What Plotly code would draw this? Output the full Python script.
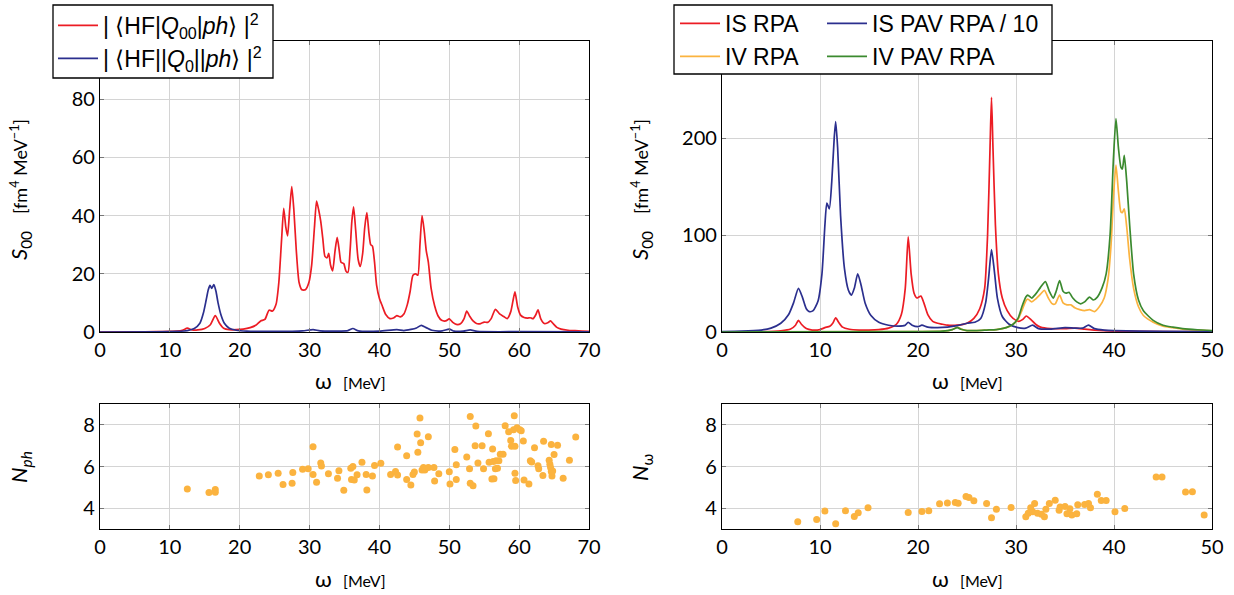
import plotly.graph_objects as go

# ---------------- data ----------------
# Top-left panel: strength functions vs omega [MeV]
tl_red_w = [0, 5, 8, 10, 11, 11.8, 12.5, 13.2, 14, 15, 15.8, 16.5, 17.1, 17.7, 18.5, 19.5, 20.5, 21.5, 22.3, 23,
            23.6, 24.2, 24.7, 25.2, 25.6, 26.0, 26.3, 26.6, 26.85, 27.15, 27.45, 27.75, 28.1, 28.5, 28.9, 29.4,
            29.9, 30.3, 30.7, 31.0, 31.3, 31.6, 31.9, 32.2, 32.5, 32.75, 33.0, 33.3, 33.65, 33.95, 34.25, 34.5,
            34.9, 35.2, 35.5, 35.8, 36.05, 36.3, 36.6, 36.95, 37.25, 37.6, 37.9, 38.2, 38.5, 38.75, 39.0, 39.3,
            39.6, 40.0, 40.4, 40.9, 41.5, 42.0, 42.5, 43.0, 43.5, 44.0, 44.4, 44.8, 45.2, 45.5, 45.8, 46.1, 46.4,
            46.7, 47.0, 47.4, 47.9, 48.4, 48.9, 49.5, 50.0, 50.5, 51.0, 51.6, 52.1, 52.5, 52.9, 53.4, 53.9, 54.5,
            55.0, 55.5, 56.0, 56.6, 57.2, 57.8, 58.3, 58.8, 59.1, 59.4, 59.8, 60.2, 60.7, 61.2, 61.6, 62.0, 62.4,
            62.7, 63.1, 63.6, 64.1, 64.5, 64.9, 65.4, 66.0, 67.0, 68.0, 69.0, 70.0]
tl_red_s = [0, 0.05, 0.1, 0.2, 0.3, 0.6, 1.3, 0.7, 0.7, 1.2, 2.5, 5.6, 3, 1.3, 0.8, 0.8, 1.0, 1.5, 2.3, 3.8,
            4.3, 7.5, 7.2, 9.5, 17, 32, 42.5, 36, 33, 42, 50, 42, 28, 17, 14.5, 14.5,
            17, 23, 36, 45, 42, 38, 32, 26, 25.5, 27, 23, 21, 28, 32.5, 28, 24,
            23.5, 21, 20.5, 28, 38, 43, 35, 25, 22.5, 27, 36, 41, 34, 30, 29.5, 24,
            16, 11.5, 9, 6, 4.6, 4.8, 5.6, 5.2, 6.2, 9.5, 14, 19.5, 20, 19.5, 30, 40, 35,
            28, 24, 15, 9, 5.5, 4, 3.8, 4.5, 3.3, 2.6, 2.8, 4.5, 7.2, 5.5, 3.8, 2.9, 2.9,
            3.4, 3.3, 4.6, 7.8, 6.2, 5.3, 4.6, 7, 10.5, 13.8, 8.5, 5.8, 5.0, 4.8, 4.9, 4.6, 6,
            7.6, 4.5, 2.9, 3.2, 3.8, 2.8, 1.6, 1.0, 0.6, 0.45, 0.3, 0.2]

tl_blue_w = [0, 8, 11, 12.5, 13.5, 14.3, 14.8, 15.2, 15.5, 15.75, 16.0, 16.3, 16.6, 16.9, 17.3, 17.8, 18.5, 19.5,
             21, 25, 29, 30.5, 31.5, 34, 35.5, 36.2, 37, 40, 42.5, 43.5, 44.5, 45.3, 46.0, 46.7, 47.5, 49, 50,
             50.7, 52, 53, 54, 60, 70]
tl_blue_s = [0, 0.05, 0.2, 0.5, 1.2, 3, 6.5, 11, 14.5, 16, 15, 16.3, 14, 10, 6, 3, 1.3, 0.6,
             0.3, 0.2, 0.4, 0.8, 0.4, 0.3, 0.5, 1.2, 0.4, 0.3, 0.8, 0.5, 0.9, 1.4, 2.3, 1.5, 0.6, 0.4, 1.0,
             0.3, 0.3, 0.7, 0.2, 0.1, 0.05]

# Top-right panel
is_rpa_w = [0, 4, 6, 7.0, 7.5, 7.8, 8.1, 8.6, 9.2, 10.0, 10.5, 11.0, 11.3, 11.6, 11.9, 12.3, 13, 14, 15, 16, 17,
            17.8, 18.3, 18.7, 19.0, 19.3, 19.6, 19.9, 20.3, 20.6, 21.0, 21.5, 22.0, 22.5, 23.0, 24.0, 25.0, 25.7,
            26.3, 26.8, 27.1, 27.35, 27.5, 27.65, 27.9, 28.2, 28.6, 29.1, 29.7, 30.3, 30.7, 31.05, 31.5, 32,
            32.5, 33.5, 35, 36, 37, 38, 40, 45, 50]
is_rpa_s = [0, 0.3, 1.2, 3, 7, 12, 8, 3.5, 2, 2.5, 4.5, 6, 9, 14.5, 10, 5, 2.8, 2, 2, 2.5, 4,
            8, 18, 45, 98, 60, 40, 35, 37, 30, 18, 11, 9, 8, 7, 7, 9, 14,
            24, 45, 100, 190, 242, 190, 110, 60, 35, 22, 14, 11, 13, 16.5, 13, 8,
            5, 3.5, 3.5, 4, 3, 2, 1, 0.3, 0.1]

is_pav_w = [0, 2, 4, 5, 6, 6.8, 7.3, 7.8, 8.2, 8.6, 8.9, 9.3, 9.8, 10.2, 10.5, 10.7, 10.95, 11.2, 11.45, 11.6,
            11.8, 12.1, 12.5, 12.9, 13.2, 13.5, 13.85, 14.2, 14.6, 15.2, 16, 17, 18, 18.7, 19.0, 19.4, 20.0,
            20.4, 21, 22, 23, 24, 25, 25.8, 26.4, 26.9, 27.2, 27.5, 27.8, 28.1, 28.6, 29.3, 30.2, 31, 31.7,
            32.3, 33.5, 35, 36, 36.8, 37.4, 38, 39, 40, 45, 50]
is_pav_s = [0.5, 0.8, 2, 4, 9, 18, 30, 45, 36, 24, 21, 22, 32, 60, 110, 133, 127, 155, 200, 217,
            190, 120, 65, 43, 38, 45, 60, 48, 30, 17, 10, 7, 6, 7, 10, 7, 5.5,
            7, 5, 4.5, 5, 6.5, 9, 10, 14, 30, 55, 85, 62, 35, 16, 8, 4.5, 4, 7,
            3.5, 3, 4.5, 4, 4, 7, 3.5, 2, 1.5, 0.6, 0.3]

iv_rpa_w = [0, 20, 22.5, 23.5, 24.0, 24.4, 25, 26, 27, 28, 29, 29.7, 30.2, 30.6, 31.0, 31.2, 31.6, 32.0, 32.5,
            32.9, 33.3, 33.7, 34.0, 34.45, 34.8, 35.2, 35.6, 36.0, 36.5, 37.0, 37.5, 38.0, 38.5, 39.0, 39.4,
            39.7, 39.95, 40.2, 40.45, 40.7, 40.85, 41.05, 41.3, 41.6, 42.0, 42.5, 43.0, 44.0, 45.0, 46, 47,
            48.5, 50]
iv_rpa_s = [0, 0.3, 0.8, 2.5, 5, 3, 1.5, 1.5, 2, 2.5, 4.5, 8, 13, 22, 32, 34, 31, 34, 39,
            43, 35, 29, 29, 38, 30, 28, 28, 25, 23, 22, 23, 21, 26, 35, 55,
            90, 140, 172, 145, 124, 123, 127, 108, 75, 45, 26, 17, 10, 6, 4.5, 3,
            2, 1.3]

iv_pav_w = [0, 20, 22.5, 23.5, 24.0, 24.4, 25, 26, 27, 28, 29, 29.7, 30.2, 30.6, 31.0, 31.2, 31.6, 32.0, 32.5,
            33.0, 33.4, 33.8, 34.1, 34.45, 34.8, 35.1, 35.4, 35.8, 36.2, 36.6, 37.0, 37.5, 37.9, 38.3, 38.8,
            39.2, 39.6, 39.95, 40.2, 40.45, 40.7, 40.85, 41.05, 41.3, 41.6, 42.0, 42.5, 43.0, 44.0, 45.0, 46,
            47, 48.5, 50]
iv_pav_s = [0, 0.3, 0.8, 2.5, 4.5, 2.8, 1.5, 1.5, 2, 2.5, 4.5, 8, 14, 26, 36, 38, 35, 39, 46,
            52, 42, 35, 42, 53, 42, 40, 41, 35, 31, 29, 31, 36, 33, 36, 46,
            60, 100, 180, 220, 190, 170, 168, 182, 155, 110, 60, 33, 22, 12, 7, 5,
            3.5, 2.3, 1.5]

# Bottom-left panel: N_ph vs omega
nph_w = [12.5, 15.6, 16.5, 16.5, 22.8, 24.1, 25.5, 26.2, 27.5, 27.6, 29.0, 29.8, 30.5, 30.5, 31.0, 31.6, 31.7,
         32.7, 34.0, 34.2, 34.9, 35.9, 36.0, 36.2, 36.4, 36.8, 37.5, 38.1, 38.2, 39.0, 39.3, 40.2, 41.6, 42.3,
         42.6, 42.6, 43.9, 43.9, 44.5, 44.8, 45.0, 45.4, 45.5, 45.8, 45.9, 46.1, 46.3, 46.5, 47.0, 47.0, 47.8,
         47.9, 48.5, 50.0, 50.1, 50.8, 51.0, 51.0, 52.5, 52.9, 53.0, 53.0, 53.4, 53.7, 53.8, 54.1, 54.7, 54.9,
         55.6, 55.7, 56.1, 56.2, 56.3, 56.4, 56.6, 56.7, 56.9, 57.1, 57.3, 57.7, 58.0, 58.5, 58.8, 58.9, 59.3,
         59.4, 59.4, 59.5, 59.2, 59.7, 60.1, 60.3, 60.6, 60.7, 61.4, 61.6, 61.8, 62.2, 62.7, 62.8, 63.4, 63.5,
         64.3, 64.4, 64.5, 64.6, 64.6, 64.7, 65.0, 65.5, 64.8, 66.3, 67.2, 68.1]
nph_n = [4.92, 4.75, 4.9, 4.76, 5.54, 5.6, 5.68, 5.14, 5.19, 5.71, 5.87, 5.89, 6.95, 5.62, 5.24, 6.17, 6.02,
         5.65, 5.43, 5.79, 4.86, 5.92, 5.38, 6.0, 5.35, 5.6, 6.2, 5.62, 4.87, 5.54, 6.05, 6.16, 5.62, 5.76,
         6.94, 5.59, 6.52, 5.37, 5.11, 5.62, 5.73, 7.56, 6.68, 8.33, 7.14, 5.83, 5.95, 5.83, 5.95, 7.43, 5.95,
         5.3, 5.65, 5.75, 5.16, 6.81, 5.38, 6.08, 6.46, 5.89, 8.4, 5.2, 5.08, 7.0, 7.94, 6.17, 7.0, 5.89,
         7.57, 6.2, 5.4, 6.84, 6.24, 5.41, 5.89, 6.27, 5.92, 6.27, 6.59, 6.59, 7.95, 7.67, 7.25, 6.97, 8.44,
         6.97, 5.67, 5.33, 7.76, 7.86, 7.76, 7.71, 7.22, 5.35, 5.16, 6.27, 6.22, 6.9, 6.03, 5.89, 5.57, 7.21,
         6.3, 6.11, 5.95, 7.06, 5.76, 5.54, 6.57, 7.02, 5.78, 5.43, 6.3, 7.41]

# Bottom-right panel: N_omega vs omega
nw_w = [7.73, 9.66, 10.5, 11.6, 12.6, 13.5, 13.9, 14.9, 19.0, 20.4, 21.1, 22.2, 23.0, 23.8, 24.1, 24.9, 25.2,
        25.7, 27.0, 27.5, 28.0, 29.5, 31.0, 31.25, 31.5, 31.7, 31.9, 32.2, 32.6, 32.9, 33.05, 33.4, 34.0, 34.4,
        34.5, 35.0, 35.2, 35.5, 35.7, 36.2, 36.3, 37.0, 37.4, 37.6, 38.3, 38.7, 39.2, 40.1, 41.1, 44.3, 44.9,
        47.3, 48.0, 49.2]
nw_n = [3.35, 3.46, 3.86, 3.25, 3.87, 3.6, 3.78, 4.02, 3.79, 3.84, 3.87, 4.21, 4.25, 4.27, 4.24, 4.56, 4.51,
        4.35, 4.22, 3.54, 3.95, 4.03, 3.59, 3.76, 4.02, 3.83, 4.22, 3.76, 3.71, 3.59, 3.95, 4.22, 4.38, 3.9,
        4.06, 4.08, 3.73, 3.97, 3.67, 3.73, 4.16, 4.17, 4.22, 4.02, 4.67, 4.37, 4.37, 3.83, 3.98, 5.49, 5.49,
        4.78, 4.79, 3.67]

TL_XTICKS = [0, 10, 20, 30, 40, 50, 60, 70]
TL_YTICKS = [0, 20, 40, 60, 80]
TR_XTICKS = [0, 10, 20, 30, 40, 50]
TR_YTICKS = [0, 100, 200]
B_YTICKS = [4, 6, 8]

# ---------------- styling ----------------
W, H = 1234, 595
FONT = "Lato"
LFONT = "Liberation Sans"
RED = "#ec1c24"
BLUE = "#2b2f8e"
ORANGE = "#fbb33f"
GREEN = "#3b8a2f"
LW = 1.7


def px(x):
    return x / W


def py(y):
    return 1 - y / H


fig = go.Figure()

fig.add_trace(go.Scatter(x=tl_red_w, y=tl_red_s, mode="lines", line=dict(color=RED, width=LW, shape="spline", smoothing=0.6),
                         name="| ⟨HF|<i>Q</i><sub>00</sub>|<i>ph</i>⟩ |<sup>2</sup>", xaxis="x", yaxis="y", legend="legend"))
fig.add_trace(go.Scatter(x=tl_blue_w, y=tl_blue_s, mode="lines", line=dict(color=BLUE, width=LW, shape="spline", smoothing=0.6),
                         name="| ⟨HF||<i>Q</i><sub>0</sub>||<i>ph</i>⟩ |<sup>2</sup>", xaxis="x", yaxis="y", legend="legend"))

fig.add_trace(go.Scatter(x=is_rpa_w, y=is_rpa_s, mode="lines", line=dict(color=RED, width=LW, shape="spline", smoothing=0.6),
                         name="IS RPA", xaxis="x2", yaxis="y2", legend="legend2"))
fig.add_trace(go.Scatter(x=iv_rpa_w, y=iv_rpa_s, mode="lines", line=dict(color=ORANGE, width=LW, shape="spline", smoothing=0.6),
                         name="IV RPA", xaxis="x2", yaxis="y2", legend="legend2"))
fig.add_trace(go.Scatter(x=is_pav_w, y=is_pav_s, mode="lines", line=dict(color=BLUE, width=LW, shape="spline", smoothing=0.6),
                         name="IS PAV RPA / 10", xaxis="x2", yaxis="y2", legend="legend3"))
fig.add_trace(go.Scatter(x=iv_pav_w, y=iv_pav_s, mode="lines", line=dict(color=GREEN, width=LW, shape="spline", smoothing=0.6),
                         name="IV PAV RPA", xaxis="x2", yaxis="y2", legend="legend3"))

fig.add_trace(go.Scatter(x=nph_w, y=nph_n, mode="markers", marker=dict(color=ORANGE, size=7),
                         showlegend=False, xaxis="x3", yaxis="y3"))
fig.add_trace(go.Scatter(x=nw_w, y=nw_n, mode="markers", marker=dict(color=ORANGE, size=7),
                         showlegend=False, xaxis="x4", yaxis="y4"))

axis_common = dict(showline=True, linecolor="black", linewidth=1.3, mirror="ticks",
                   ticks="inside", ticklen=4, tickcolor="#777", tickwidth=1,
                   showgrid=True, gridcolor="#d4d4d4", gridwidth=1, zeroline=False,
                   automargin=False,
                   tickfont=dict(family=FONT, size=20, color="black"))

top_dom = [py(332), py(41)]
bot_dom = [py(529), py(404)]
left_dom = [px(100), px(589)]
right_dom = [px(722), px(1212)]

legend_common = dict(xanchor="left", yanchor="top", bgcolor="rgba(0,0,0,0)", borderwidth=0,
                     font=dict(family=LFONT, size=23, color="black"), tracegroupgap=0, itemwidth=40)

fig.update_layout(
    width=W, height=H, autosize=False,
    margin=dict(l=0, r=0, t=0, b=0, pad=0, autoexpand=False),
    paper_bgcolor="white", plot_bgcolor="white",
    font=dict(family=FONT, size=19, color="black"),
    xaxis=dict(domain=left_dom, anchor="y", range=[0, 70], tickvals=TL_XTICKS, **axis_common),
    yaxis=dict(domain=top_dom, anchor="x", range=[0, 100], tickvals=TL_YTICKS, **axis_common),
    xaxis2=dict(domain=right_dom, anchor="y2", range=[0, 50], tickvals=TR_XTICKS, **axis_common),
    yaxis2=dict(domain=top_dom, anchor="x2", range=[0, 300], tickvals=TR_YTICKS, **axis_common),
    xaxis3=dict(domain=left_dom, anchor="y3", range=[0, 70], tickvals=TL_XTICKS, **axis_common),
    yaxis3=dict(domain=bot_dom, anchor="x3", range=[3, 9], tickvals=B_YTICKS, **axis_common),
    xaxis4=dict(domain=right_dom, anchor="y4", range=[0, 50], tickvals=TR_XTICKS, **axis_common),
    yaxis4=dict(domain=bot_dom, anchor="x4", range=[3, 9], tickvals=B_YTICKS, **axis_common),
    legend=dict(x=px(53), y=py(4), **legend_common),
    legend2=dict(x=px(675), y=py(2), **legend_common),
    legend3=dict(x=px(822), y=py(2), **legend_common),
    showlegend=True,
)

# legend boxes
for (x0, y0, x1, y1) in [(53, 5, 273, 78), (674, 5, 1052, 74)]:
    fig.add_shape(type="rect", xref="paper", yref="paper", x0=px(x0), x1=px(x1), y0=py(y1), y1=py(y0),
                  fillcolor="white", line=dict(color="black", width=1.3), layer="above")

xtitle = "ω  <span style='font-size:16px'>[MeV]</span>"
ytitle_s = "<i>S</i><sub>00</sub>   <span style='font-size:18px'>[fm<sup>4</sup> MeV<sup>−1</sup>]</span>"
annots = [
    (350, 381, xtitle, 0), (967, 381, xtitle, 0), (350, 578, xtitle, 0), (967, 578, xtitle, 0),
    (20, 190, ytitle_s, -90), (641, 190, ytitle_s, -90),
    (20, 467, "<i>N</i><sub><i>ph</i></sub>", -90), (641, 467, "<i>N</i><sub>ω</sub>", -90),
]
for (x, y, t, ang) in annots:
    fig.add_annotation(x=px(x), y=py(y), xref="paper", yref="paper", text=t, showarrow=False,
                       textangle=ang, xanchor="center", yanchor="middle",
                       font=dict(family=FONT, size=22, color="black"))

fig.write_html("out.html", config={"displayModeBar": False},
               post_script="document.body.style.margin='0px';document.body.style.padding='0px';"
                           "document.body.style.overflow='hidden';")
